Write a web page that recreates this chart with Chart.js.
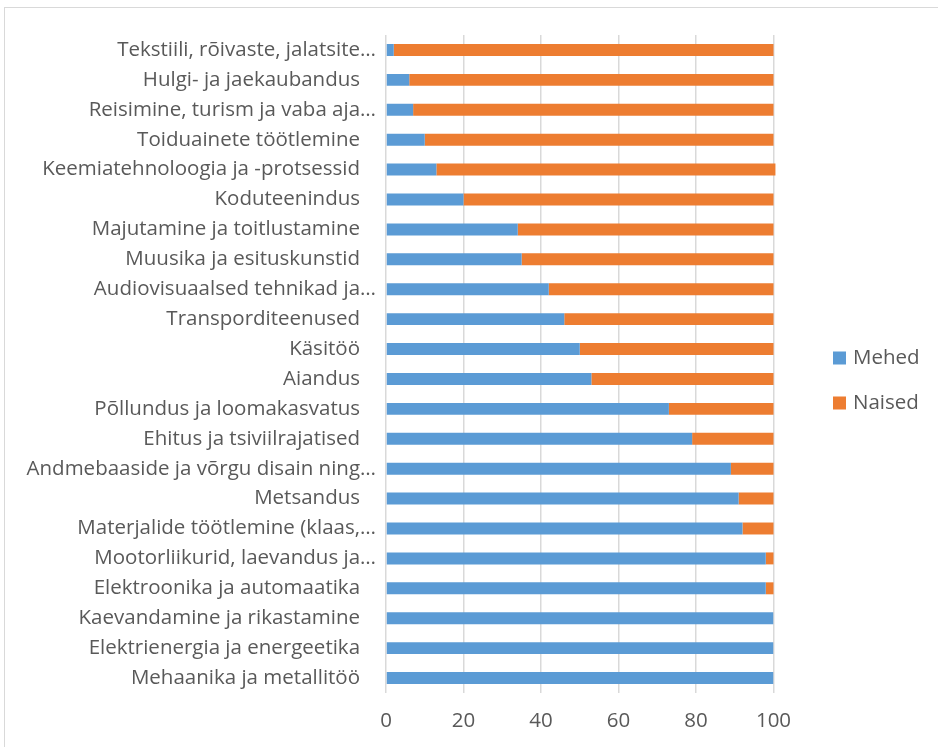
<!DOCTYPE html>
<html>
<head>
<meta charset="utf-8">
<script src="https://cdn.jsdelivr.net/npm/chart.js@4/dist/chart.umd.min.js"></script>
<style>
  html, body { margin: 0; padding: 0; background: #fff; }
  #wrap { position: relative; width: 938px; height: 747px; overflow: hidden; }
  #frame { position: absolute; left: 4px; top: 7px; width: 1000px; height: 800px; border-left: 1px solid #d9d9d9; border-top: 1px solid #d9d9d9; }
  canvas { position: absolute; left: 0; top: 0; }
</style>
</head>
<body>
<div id="wrap">
  <div id="frame"></div>
  <canvas id="chart" width="938" height="747"></canvas>
</div>
<script>
const categories = [
  "Tekstiili, rõivaste, jalatsite…",
  "Hulgi- ja jaekaubandus",
  "Reisimine, turism ja vaba aja…",
  "Toiduainete töötlemine",
  "Keemiatehnoloogia ja -protsessid",
  "Koduteenindus",
  "Majutamine ja toitlustamine",
  "Muusika ja esituskunstid",
  "Audiovisuaalsed tehnikad ja…",
  "Transporditeenused",
  "Käsitöö",
  "Aiandus",
  "Põllundus ja loomakasvatus",
  "Ehitus ja tsiviilrajatised",
  "Andmebaaside ja võrgu disain ning…",
  "Metsandus",
  "Materjalide töötlemine (klaas,…",
  "Mootorliikurid, laevandus ja…",
  "Elektroonika ja automaatika",
  "Kaevandamine ja rikastamine",
  "Elektrienergia ja energeetika",
  "Mehaanika ja metallitöö"
];
const mehed  = [2, 6, 7, 10, 13, 20, 34, 35, 42, 46, 50, 53, 73, 79, 89, 91, 92, 98, 98, 100, 100, 100];
const naised = [98, 94, 93, 90, 87.5, 80, 66, 65, 58, 54, 50, 47, 27, 21, 11, 9, 8, 2, 2, 0, 0, 0];
const xTicks = [0, 20, 40, 60, 80, 100];

const FONT = "'Open Sans', Lato, sans-serif";
const SIZE = 20.5;
const TEXT = "#595959";

// legend drawn at the right, Excel style
const sideLegend = {
  id: "sideLegend",
  afterDraw(chart) {
    const ctx = chart.ctx;
    ctx.save();
    ctx.font = SIZE + "px " + FONT;
    ctx.textBaseline = "middle";
    chart.data.datasets.forEach((ds, i) => {
      const y = 358 + i * 45;
      ctx.fillStyle = ds.backgroundColor;
      ctx.fillRect(833, y - 6.5, 13, 13);
      ctx.fillStyle = TEXT;
      ctx.fillText(ds.label, 853, y);
    });
    ctx.restore();
  }
};

new Chart(document.getElementById("chart"), {
  type: "bar",
  data: {
    labels: categories,
    datasets: [
      { label: "Mehed", data: mehed, backgroundColor: "#5B9BD5", barPercentage: 0.4, categoryPercentage: 1 },
      { label: "Naised", data: naised, backgroundColor: "#ED7D31", barPercentage: 0.4, categoryPercentage: 1, clip: false }
    ]
  },
  options: {
    indexAxis: "y",
    responsive: false,
    animation: false,
    layout: { padding: { top: 35, right: 164.5, left: 0, bottom: 0 } },
    plugins: { legend: { display: false }, tooltip: { enabled: false } },
    scales: {
      x: {
        stacked: true,
        min: 0,
        max: 100,
        afterBuildTicks: (scale) => { scale.ticks = xTicks.map((v) => ({ value: v })); },
        grid: { color: "#d9d9d9", lineWidth: 1.5, drawTicks: false },
        border: { display: false },
        ticks: { color: TEXT, font: { family: FONT, size: SIZE }, padding: 16 },
        afterFit: (scale) => { scale.height = 54; }
      },
      y: {
        stacked: true,
        grid: { display: false },
        border: { display: false },
        ticks: {
          color: TEXT,
          font: { family: FONT, size: SIZE },
          padding: 2,
          autoSkip: false,
          callback: function (v) {
            const s = this.getLabelForValue(v);
            return s.endsWith("…") ? s : s + "   ";
          }
        },
        afterFit: (scale) => { scale.width = 386; }
      }
    }
  },
  plugins: [sideLegend]
});
</script>
</body>
</html>
